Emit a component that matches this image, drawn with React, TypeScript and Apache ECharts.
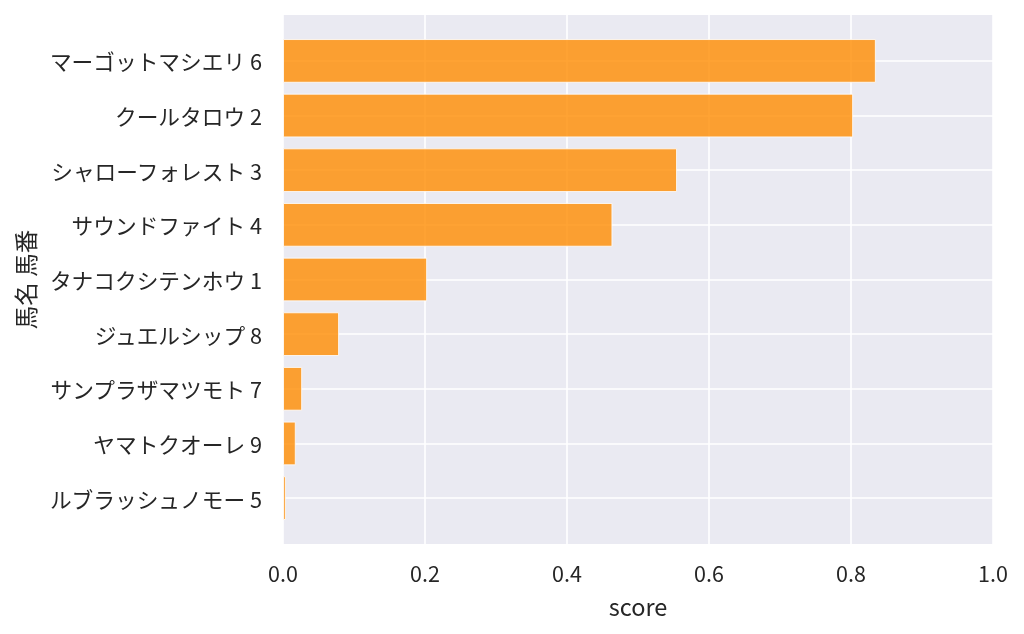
import React, { useEffect, useRef } from "react";
import * as echarts from "echarts";

const categories = [
  "マーゴットマシエリ 6",
  "クールタロウ 2",
  "シャローフォレスト 3",
  "サウンドファイト 4",
  "タナコクシテンホウ 1",
  "ジュエルシップ 8",
  "サンプラザマツモト 7",
  "ヤマトクオーレ 9",
  "ルブラッシュノモー 5",
];
const scores = [0.835, 0.803, 0.555, 0.464, 0.203, 0.079, 0.027, 0.018, 0.004];
const xTickStep = 0.2;
const xName = "score";
const yName = "馬名 馬番";

const FONT = "'Noto Sans CJK JP', 'Noto Sans', sans-serif";
const TEXT = "#262626";

export default function App() {
  const ref = useRef<HTMLDivElement>(null);
  useEffect(() => {
    if (!ref.current) return;
    const chart = echarts.init(ref.current, undefined, { renderer: "svg" });
    const plotLeft = 283;
    const plotTop = 15;
    const plotW = 710;
    const plotH = 529;
    // seaborn-style margins: bars span -0.84 .. 8.84 in category units
    const unit = plotH / 9.68;
    const pad = 0.34 * unit;
    chart.setOption({
      animation: false,
      textStyle: { fontFamily: FONT },
      grid: [
        {
          left: plotLeft,
          top: plotTop,
          width: plotW,
          height: plotH,
          show: true,
          backgroundColor: "#eaeaf2",
          borderWidth: 0,
        },
        {
          left: plotLeft,
          top: plotTop + pad,
          width: plotW,
          height: plotH - 2 * pad,
        },
      ],
      xAxis: [
        {
          type: "value",
          gridIndex: 0,
          min: 0,
          max: 1,
          interval: xTickStep,
          axisLine: { show: false },
          axisTick: { show: false },
          axisLabel: {
            formatter: (v: number) => v.toFixed(1),
            fontSize: 21.5,
            color: TEXT,
            margin: 18,
            fontFamily: FONT,
          },
          splitLine: { show: true, lineStyle: { color: "#ffffff", width: 1.6 } },
          name: xName,
          nameLocation: "middle",
          nameGap: 50,
          nameTextStyle: { fontSize: 23.5, color: TEXT, fontFamily: FONT },
        },
        {
          type: "value",
          gridIndex: 1,
          min: 0,
          max: 1,
          show: false,
        },
      ],
      yAxis: [
        {
          type: "value",
          gridIndex: 0,
          min: 0,
          max: 1,
          show: false,
        },
        {
          type: "category",
          gridIndex: 1,
          inverse: true,
          data: categories,
          axisLine: { show: false },
          axisTick: { show: false },
          splitLine: { show: false },
          axisLabel: {
            fontSize: 21.7,
            color: TEXT,
            margin: 21,
            fontFamily: FONT,
          },
          name: yName,
          nameLocation: "middle",
          nameRotate: 90,
          nameGap: 246,
          nameTextStyle: { fontSize: 23.5, color: TEXT, fontFamily: FONT },
        },
      ],
      series: [
        {
          type: "line",
          xAxisIndex: 1,
          yAxisIndex: 1,
          data: [],
          z: 1,
          markLine: {
            silent: true,
            z: 1,
            symbol: "none",
            label: { show: false },
            lineStyle: { color: "#ffffff", width: 1.6, type: "solid" },
            data: categories.map((c) => ({ yAxis: c })),
          },
        },
        {
          type: "bar",
          xAxisIndex: 1,
          yAxisIndex: 1,
          data: scores,
          barCategoryGap: "20%",
          z: 3,
          itemStyle: {
            color: "#ff8c00",
            opacity: 0.8,
            borderColor: "#ffffff",
            borderWidth: 1,
          },
        },
      ],
    });
    return () => chart.dispose();
  }, []);
  return (
    <div
      ref={ref}
      style={{ position: "fixed", left: 0, top: 0, width: 1024, height: 634 }}
    />
  );
}
